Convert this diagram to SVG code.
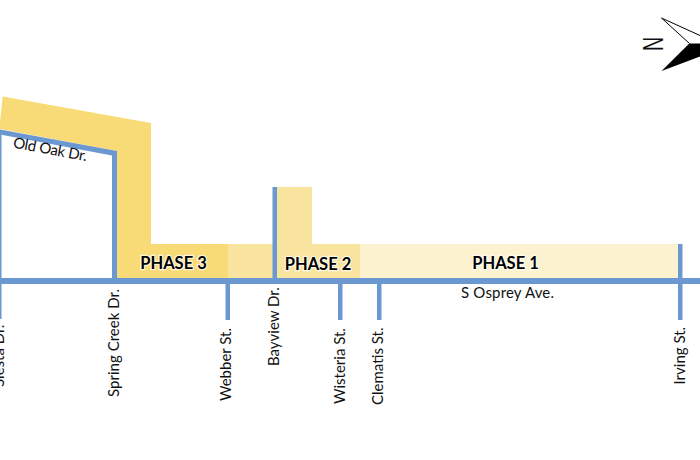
<svg xmlns="http://www.w3.org/2000/svg" width="700" height="460" viewBox="0 0 700 460">
<style>
.road{fill:#6c98d2}
.lbl{font-family:Lato,"Open Sans",sans-serif;font-size:15px;fill:#111}
.ph{font-family:Lato,"Open Sans",sans-serif;font-size:16.500px;font-weight:700;fill:#000;stroke:#fff;stroke-width:2.500px;stroke-opacity:.75;paint-order:stroke;text-anchor:middle}
</style>
<rect width="700" height="460" fill="#fff"/>
<g id="phase-3"><polygon points="2.700,96.500 151,123 151,244 228,244 228,278 117,278 117,151 0,129 0,122" fill="#f8db77"/><text class="ph" x="173.500" y="268.500">PHASE 3</text></g>
<g id="phase-2"><polygon points="228,244 274,244 274,278 228,278" fill="#f9e49f"/><polygon points="277,187 312,187 312,244 360,244 360,278 277,278" fill="#f9e49f"/><text class="ph" x="318" y="270">PHASE 2</text></g>
<g id="phase-1"><rect x="360" y="244" width="318" height="34" fill="#fcf2cf"/><text class="ph" x="505.500" y="268.500">PHASE 1</text></g>
<g id="roads">
<rect class="road" x="0" y="278" width="700" height="6"/>
<polygon class="road" points="0,129.500 117,151 117,278 112,278 112,155.500 0,134.500"/>
<rect class="road" x="0" y="132" width="1.500" height="187"/>
<rect class="road" x="225.500" y="284" width="4.500" height="36"/>
<rect class="road" x="272.500" y="187" width="4.500" height="91"/>
<rect class="road" x="338" y="284" width="4.500" height="36"/>
<rect class="road" x="377" y="284" width="4.500" height="36"/>
<rect class="road" x="678" y="244" width="4.500" height="76"/>
</g>
<g id="compass">
<path d="M700,35.500 L661.500,18 L689.500,43.500" fill="none" stroke="#000" stroke-width="1"/>
<polygon points="689.300,43.500 700,43.500 700,56.500 661.500,71" fill="#000"/>
<text transform="translate(662.500 51) rotate(-90) scale(.68 1)" style="font-family:'Liberation Sans',sans-serif;font-size:29px;fill:#111">N</text>
</g>
<g id="labels">
<text class="lbl" transform="translate(12.500 147.500) rotate(10.500)" textLength="75" lengthAdjust="spacing">Old Oak Dr.</text>
<text class="lbl" x="461" y="298" textLength="93">S Osprey Ave.</text>
<text class="lbl" transform="translate(4 387) rotate(-90)">Siesta Dr.</text>
<text class="lbl" transform="translate(119 397) rotate(-90)" textLength="108">Spring Creek Dr.</text>
<text class="lbl" transform="translate(231 401) rotate(-90)">Webber St.</text>
<text class="lbl" transform="translate(279 366) rotate(-90)">Bayview Dr.</text>
<text class="lbl" transform="translate(345 404) rotate(-90)">Wisteria St.</text>
<text class="lbl" transform="translate(383 405) rotate(-90)">Clematis St.</text>
<text class="lbl" transform="translate(685 384.500) rotate(-90)">Irving St.</text>
</g>
</svg>
